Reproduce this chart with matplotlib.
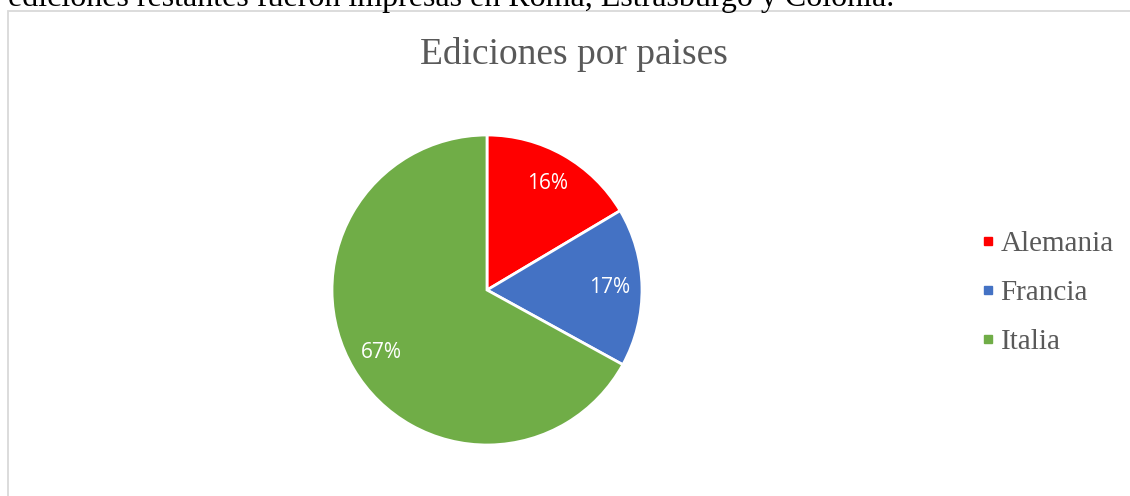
import matplotlib.pyplot as plt
from matplotlib.lines import Line2D
from matplotlib.patches import Rectangle

paises = ["Alemania", "Francia", "Italia"]
porcentajes = [16.45, 16.55, 67.0]
colores = ["#FF0000", "#4472C4", "#70AD47"]
titulo = "Ediciones por paises"
texto_previo = "ediciones restantes fueron impresas en Roma, Estrasburgo y Colonia."

W, H = 1130, 496
fig = plt.figure(figsize=(W / 100, H / 100), dpi=100)
ax = fig.add_axes([0, 0, 1, 1])

serif = "Liberation Serif"
gris = "#595959"

# chart frame (only left and top edges visible in the crop)
ax.add_patch(Rectangle((8, -20), 1300, H - 11 + 20, facecolor="none",
                       edgecolor="#d9d9d9", lw=1.3, zorder=0))

wedges, _, autotexts = ax.pie(
    porcentajes, colors=colores, startangle=90, counterclock=False,
    center=(487, H - 290), radius=155, frame=True,
    autopct="%.0f%%", pctdistance=0.79,
    wedgeprops=dict(edgecolor="white", linewidth=2),
    textprops=dict(color="white", fontsize=15, family="Open Sans"),
)

ax.set_xlim(0, W)
ax.set_ylim(0, H)
ax.set_aspect("auto")
ax.axis("off")

ax.text(574, H - 54, titulo, ha="center", va="center", fontsize=27,
        color=gris, family=serif)

# sentence of the document above the chart, cut by the top edge
ax.text(8, H - 6, texto_previo, ha="left", va="baseline", fontsize=23,
        color="black", family=serif)

handles = [Line2D([], [], marker="s", ls="none", markersize=6, color=c) for c in colores]
ax.legend(handles, paises, loc="center left", bbox_to_anchor=(983.6, H - 293),
          bbox_transform=ax.transData, frameon=False, borderpad=0,
          borderaxespad=0, handlelength=0.3, handletextpad=0.28,
          labelspacing=0.78, prop=dict(family=serif, size=21), labelcolor=gris)

fig.savefig("out.png", dpi=100)
